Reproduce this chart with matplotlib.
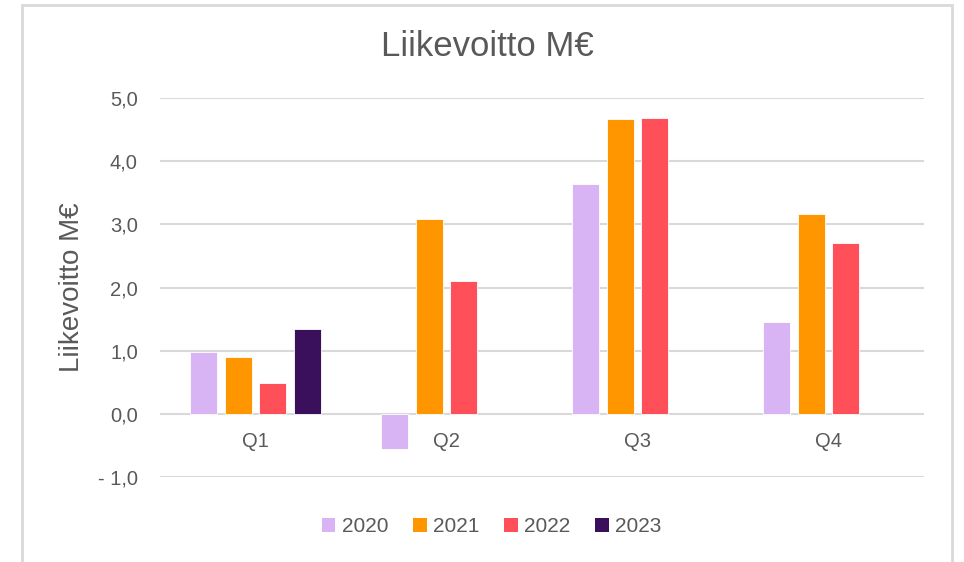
import matplotlib
matplotlib.use("Agg")
import numpy as np
from matplotlib import pyplot as plt
from matplotlib.patches import Rectangle, Patch

quarters = ["Q1", "Q2", "Q3", "Q4"]
years = ["2020", "2021", "2022", "2023"]
v2020 = [0.98, -0.55, 3.64, 1.46]
v2021 = [0.90, 3.08, 4.66, 3.17]
v2022 = [0.49, 2.10, 4.68, 2.70]
v2023 = [1.34, np.nan, np.nan, np.nan]
yticks = [-1, 0, 1, 2, 3, 4, 5]
ytick_labels = ["- 1,0", "0,0", "1,0", "2,0", "3,0", "4,0", "5,0"]

colors = ["#D8B4F4", "#FF9600", "#FF505A", "#3A0F5C"]
txt = "#595959"
grid = "#D9D9D9"

plt.rcParams['font.family'] = ['Liberation Sans', 'DejaVu Sans']

fig = plt.figure(figsize=(9.64, 5.62), dpi=100)
# light grey frame round the chart (open at the bottom)
fig.patches.append(Rectangle((22 / 964, -0.1), 930 / 964, 1.1 - 5 / 562,
                             transform=fig.transFigure, fill=False,
                             edgecolor=grid, linewidth=2))

ax = fig.add_axes([0.166, 0.1512, 0.7925, 0.6744])
x = np.arange(len(quarters))
step = 0.18
width = 0.141
series = [v2020, v2021, v2022, v2023]
for i, vals in enumerate(series):
    ax.bar(x + (i - 1.5) * step, vals, width, color=colors[i],
           edgecolor="white", linewidth=0.6, zorder=3)

ax.set_xlim(-0.5, len(quarters) - 0.5)
ax.set_ylim(-1, 5)
ax.set_yticks(yticks)
ax.set_yticklabels(ytick_labels, fontsize=14.5, color=txt)
ax.set_xticks([])
ax.tick_params(axis='y', length=0, pad=16)
ax.yaxis.grid(True, color=grid, linewidth=1.5, zorder=0)
for s in ax.spines.values():
    s.set_visible(False)

# category labels sit just below the zero line
for xi, q in zip(x, quarters):
    ax.text(xi, -0.43, q, ha='center', va='center', fontsize=14.5, color=txt)

ax.set_ylabel("Liikevoitto M€", fontsize=20, color=txt, labelpad=9)
fig.text(0.506, 1 - 46 / 562, "Liikevoitto M€", ha='center', va='center',
         fontsize=25, color=txt)

handles = [Patch(facecolor=c, edgecolor='none') for c in colors]
fig.legend(handles, years, loc='center', bbox_to_anchor=(0.51, 1 - 527 / 562),
           ncol=4, frameon=False, fontsize=15, labelcolor=txt,
           handlelength=0.65, handleheight=0.65, handletextpad=0.3,
           columnspacing=1.2)

fig.savefig("out.png", dpi=100)
plt.close(fig)
